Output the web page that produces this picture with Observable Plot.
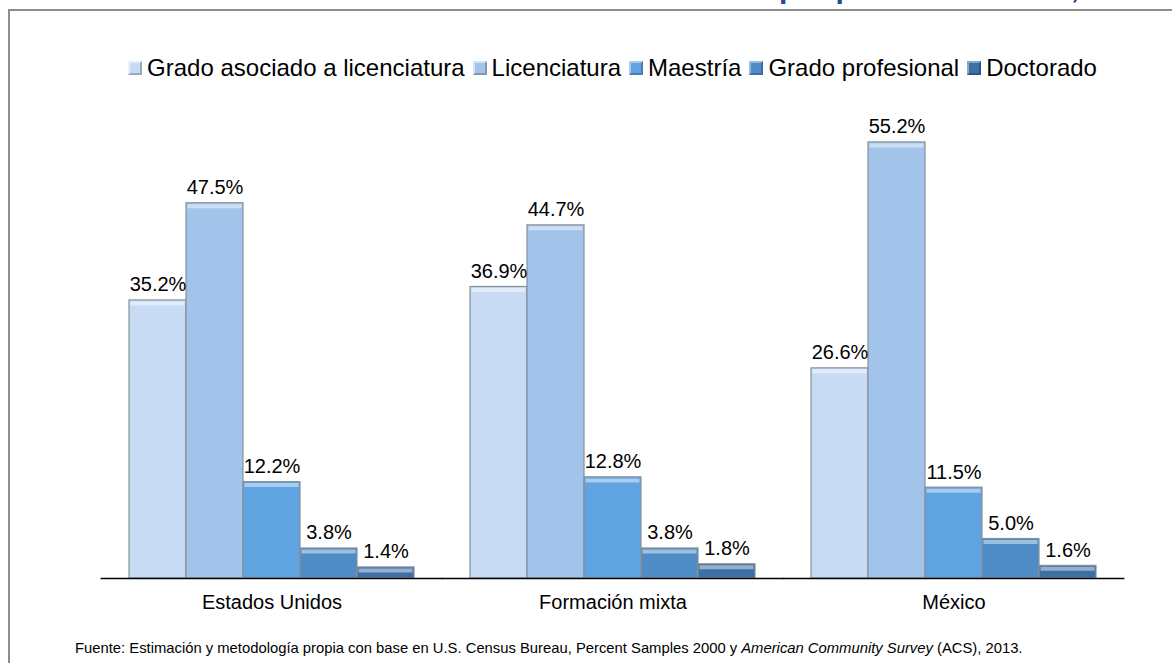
<!DOCTYPE html>
<html><head><meta charset="utf-8">
<script src="https://cdn.jsdelivr.net/npm/d3@7"></script>
<script src="https://cdn.jsdelivr.net/npm/@observablehq/plot@0.6"></script>
<style>
body{margin:0;background:#fff;font-family:Arial,"Liberation Sans",sans-serif;}
#page{position:relative;width:1172px;height:663px;overflow:hidden;background:#fff;}
#frame{position:absolute;left:8px;top:9px;width:1300px;height:800px;border-top:2px solid #8d8d8d;border-left:2px solid #8d8d8d;}
#title{position:absolute;left:17px;top:-27px;font-size:30px;font-weight:bold;white-space:nowrap;line-height:1;}
#title .a{color:#7d9ac4;}
#title .b{color:#1f4e8c;}
#legend{position:absolute;left:100px;width:1025px;top:55px;display:flex;justify-content:center;align-items:center;font-size:24px;line-height:26px;color:#000;white-space:nowrap;}
#legend .item{display:flex;align-items:center;margin-right:8px;}
#legend .item:last-child{margin-right:0;}
#legend .sw{width:10px;height:10px;border:2px solid;margin-right:5px;}
#chart{position:absolute;left:0;top:90px;}
#caption{position:absolute;left:75px;top:640px;font-size:14.8px;line-height:16px;color:#000;white-space:nowrap;}
</style></head>
<body>
<div id="page">
  <div id="frame"></div>
  <div id="title"><span class="a">Mexicanos calificados residentes en Estados Unidos </span><span class="b">por país de estudios, 2013</span></div>
  <div id="legend"></div>
  <div id="chart"></div>
  <div id="caption">Fuente: Estimación y metodología propia con base en U.S. Census Bureau, Percent Samples 2000 y <i>American Community Survey</i> (ACS), 2013.</div>
</div>
<script>
const categories = ["Estados Unidos", "Formación mixta", "México"];
const degrees = ["Grado asociado a licenciatura", "Licenciatura", "Maestría", "Grado profesional", "Doctorado"];
const estadosUnidos = [35.2, 47.5, 12.2, 3.8, 1.4];
const formacionMixta = [36.9, 44.7, 12.8, 3.8, 1.8];
const mexico = [26.6, 55.2, 11.5, 5.0, 1.6];
const colors = ["#c7dcf4", "#a3c4ea", "#5fa3e0", "#4f8cc6", "#3e70a6"];
const lightEdges = ["#e6f0fb", "#d0e2f6", "#a9cdf0", "#94bde3", "#86a9cf"];
const darkEdges = ["#9aa9ba", "#8596ab", "#4d7fae", "#3f6f9f", "#2f5683"];

const data = [];
[estadosUnidos, formacionMixta, mexico].forEach((vals, ci) =>
  vals.forEach((v, di) => data.push({cat: categories[ci], degree: degrees[di], value: v})));

// legend
const legend = document.getElementById("legend");
degrees.forEach((d, i) => {
  const item = document.createElement("div");
  item.className = "item";
  const sw = document.createElement("span");
  sw.className = "sw";
  sw.style.background = colors[i];
  sw.style.borderColor = `${lightEdges[i]} ${darkEdges[i]} ${darkEdges[i]} ${lightEdges[i]}`;
  const t = document.createElement("span");
  t.textContent = d;
  item.appendChild(sw); item.appendChild(t);
  legend.appendChild(item);
});

const chart = Plot.plot({
  width: 1172, height: 540,
  marginLeft: 100, marginRight: 47, marginTop: 14, marginBottom: 52,
  style: {fontFamily: "Arial, 'Liberation Sans', sans-serif", color: "#000", background: "transparent"},
  fx: {domain: categories, paddingInner: 0.158, paddingOuter: 0.079, label: null},
  x: {domain: degrees, padding: 0, axis: null},
  y: {domain: [0, 60], axis: null},
  color: {domain: degrees, range: colors},
  marks: [
    Plot.barY(data, {fx: "cat", x: "degree", y: "value", fill: "degree", stroke: "#88909a", strokeWidth: 1.2}),
    Plot.tickY(data, {fx: "cat", x: "degree", y: "value", stroke: "#fff", strokeOpacity: 0.45, strokeWidth: 4, dy: 3, insetLeft: 1.5, insetRight: 1.5}),
    Plot.text(data, {fx: "cat", x: "degree", y: "value", text: d => d.value.toFixed(1) + "%", lineAnchor: "bottom", dy: -9, fontSize: 20, fill: "#000"}),
    Plot.ruleY([0], {stroke: "#000", strokeWidth: 1.5, insetLeft: -27.4, insetRight: -27.4}),
    Plot.axisFx({anchor: "bottom", tickSize: 0, tickPadding: 16, fontSize: 20, label: null})
  ]
});
document.getElementById("chart").appendChild(chart);
</script>
</body></html>
